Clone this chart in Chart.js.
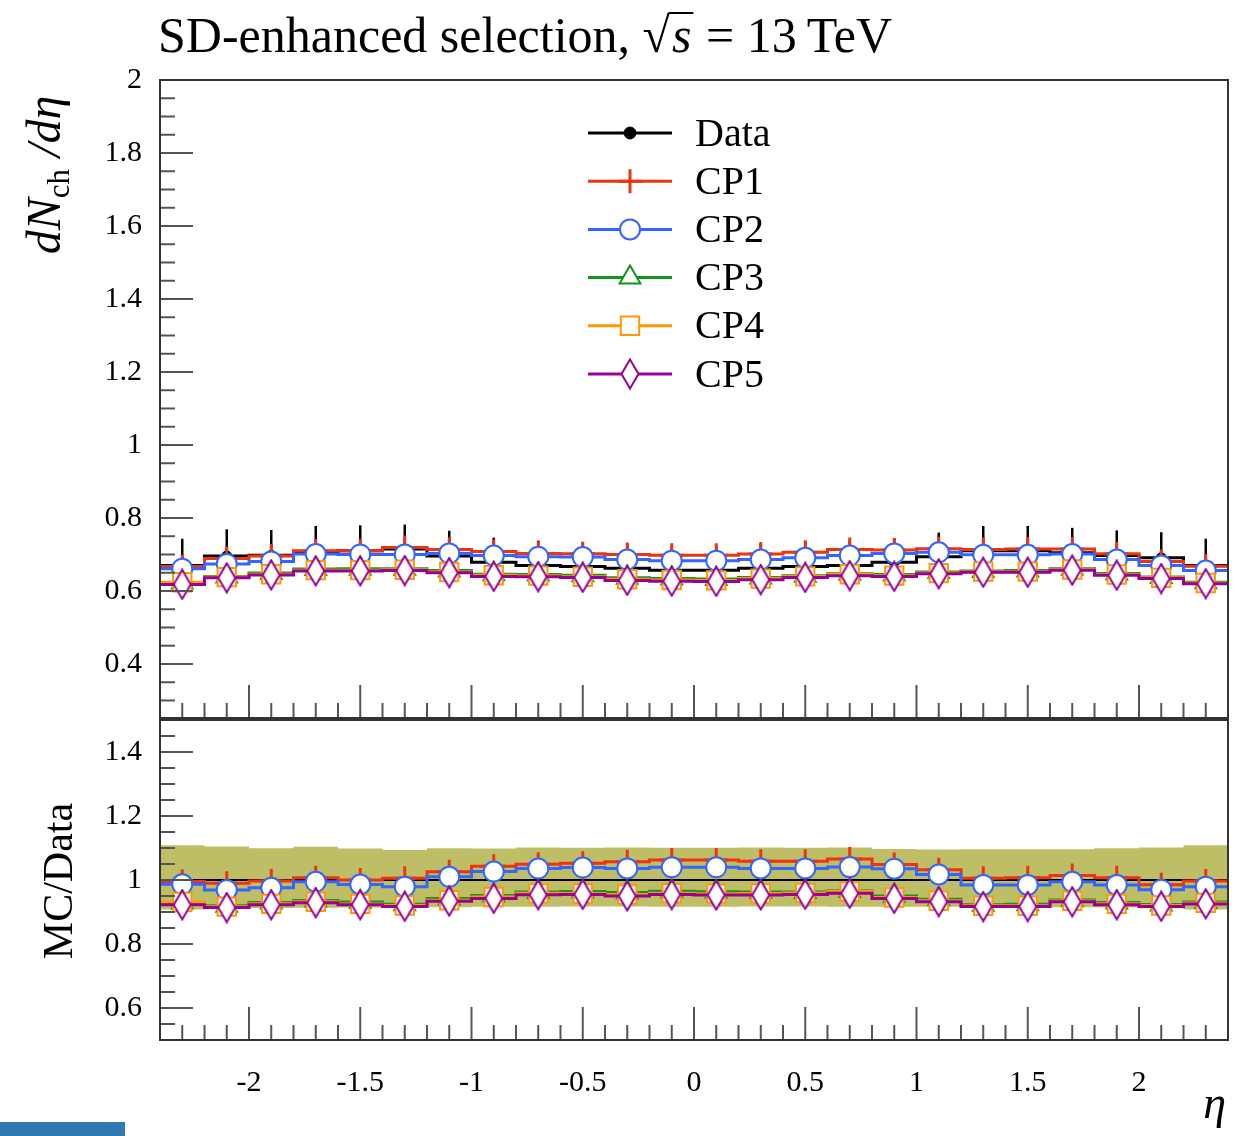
<!DOCTYPE html>
<html>
<head>
<meta charset="utf-8">
<script src="https://cdn.jsdelivr.net/npm/chart.js@4.4.1/dist/chart.umd.min.js"></script>
<style>
  html, body { margin: 0; padding: 0; background: #fff; }
  #wrap { position: relative; width: 1244px; height: 1136px; overflow: hidden; }
  #top { position: absolute; left: 0; top: 0; }
  #bottom { position: absolute; left: 0; top: 700px; }
  #tab { position: absolute; left: 0; top: 1122px; width: 125px; height: 14px; background: #2f78b4; }
</style>
</head>
<body>
<div id="wrap">
  <canvas id="top" width="1244" height="720"></canvas>
  <canvas id="bottom" width="1244" height="436"></canvas>
  <div id="tab"></div>
</div>
<script>
// bin centres in eta, bins are 0.2 wide
const ETA = [-2.3, -2.1, -1.9, -1.7, -1.5, -1.3, -1.1, -0.9, -0.7, -0.5, -0.3, -0.1,
             0.1, 0.3, 0.5, 0.7, 0.9, 1.1, 1.3, 1.5, 1.7, 1.9, 2.1, 2.3];
const BIN_HALF = 0.1;

const DATA = [0.670, 0.696, 0.698, 0.705, 0.710, 0.715, 0.696, 0.679, 0.670, 0.667, 0.662, 0.657,
              0.657, 0.662, 0.667, 0.670, 0.679, 0.694, 0.710, 0.710, 0.705, 0.697, 0.691, 0.670];
const DATA_ERR_UP = [0.073, 0.073, 0.069, 0.073, 0.070, 0.067, 0.069, 0.067, 0.068, 0.067, 0.067, 0.066,
                     0.066, 0.067, 0.067, 0.068, 0.066, 0.066, 0.068, 0.068, 0.068, 0.069, 0.070, 0.073];
const DATA_ERR_DN = [0.062, 0.062, 0.061, 0.061, 0.061, 0.061, 0.059, 0.057, 0.056, 0.055, 0.055, 0.055,
                     0.055, 0.055, 0.055, 0.056, 0.057, 0.058, 0.060, 0.060, 0.060, 0.060, 0.061, 0.062];

const CP1 = [0.667, 0.689, 0.696, 0.710, 0.710, 0.719, 0.714, 0.708, 0.703, 0.702, 0.700, 0.698,
             0.698, 0.701, 0.706, 0.714, 0.712, 0.716, 0.714, 0.715, 0.715, 0.702, 0.681, 0.668];
const CP2 = [0.661, 0.674, 0.681, 0.701, 0.700, 0.700, 0.703, 0.697, 0.694, 0.693, 0.686, 0.683,
             0.683, 0.686, 0.691, 0.697, 0.703, 0.706, 0.699, 0.699, 0.701, 0.686, 0.670, 0.656];
const CP3 = [0.623, 0.640, 0.649, 0.660, 0.661, 0.661, 0.656, 0.646, 0.645, 0.643, 0.636, 0.634,
             0.633, 0.637, 0.642, 0.647, 0.645, 0.652, 0.655, 0.656, 0.661, 0.648, 0.638, 0.624];
const CP4 = [0.624, 0.638, 0.646, 0.657, 0.657, 0.658, 0.652, 0.643, 0.642, 0.639, 0.632, 0.630,
             0.629, 0.634, 0.640, 0.646, 0.642, 0.649, 0.653, 0.653, 0.659, 0.645, 0.636, 0.622];
const CP5 = [0.618, 0.636, 0.644, 0.655, 0.655, 0.656, 0.650, 0.640, 0.639, 0.637, 0.629, 0.627,
             0.626, 0.631, 0.637, 0.642, 0.640, 0.647, 0.651, 0.651, 0.657, 0.643, 0.634, 0.620];

const X_TICKS = [-2, -1.5, -1, -0.5, 0, 0.5, 1, 1.5, 2];
const X_TICK_LABELS = ['-2', '-1.5', '-1', '-0.5', '0', '0.5', '1', '1.5', '2'];
const Y_TICKS = [0.4, 0.6, 0.8, 1, 1.2, 1.4, 1.6, 1.8, 2];
const Y_TICK_LABELS = ['0.4', '0.6', '0.8', '1', '1.2', '1.4', '1.6', '1.8', '2'];
const R_TICKS = [0.6, 0.8, 1, 1.2, 1.4];
const R_TICK_LABELS = ['0.6', '0.8', '1', '1.2', '1.4'];

const FONT = '"Liberation Serif", "Times New Roman", serif';
const BAND = '#bebe66';

// tall open diamond used for CP5
function diamond() {
  const c = document.createElement('canvas');
  c.width = 20; c.height = 32;
  const g = c.getContext('2d');
  g.beginPath();
  g.moveTo(10, 1.5); g.lineTo(18.5, 16); g.lineTo(10, 30.5); g.lineTo(1.5, 16);
  g.closePath();
  g.fillStyle = '#fff'; g.fill();
  g.strokeStyle = '#990099'; g.lineWidth = 2; g.stroke();
  return c;
}

const SERIES = [
  { label: 'CP1', vals: CP1, color: '#ee3311', style: 'cross', r: 12, bw: 3 },
  { label: 'CP2', vals: CP2, color: '#3366ff', style: 'circle', r: 10, bw: 2 },
  { label: 'CP3', vals: CP3, color: '#109618', style: 'triangle', r: 12, bw: 2 },
  { label: 'CP4', vals: CP4, color: '#ff9900', style: 'rect', r: 13, bw: 2 },
  { label: 'CP5', vals: CP5, color: '#990099', style: diamond(), r: 15, bw: 2 }
];

function hist(vals) {
  const pts = vals.map((v, i) => ({ x: ETA[i] - BIN_HALF, y: v }));
  pts.push({ x: ETA[ETA.length - 1] + BIN_HALF, y: vals[vals.length - 1] });
  return pts;
}
function marks(vals) {
  return vals.map((v, i) => ({ x: ETA[i], y: v }));
}

function buildSets(ratio) {
  const f = vals => ratio ? vals.map((v, i) => v / DATA[i]) : vals;
  const sets = [];
  let order = 90;
  if (ratio) {
    sets.push({ data: hist(DATA.map((d, i) => 1 + DATA_ERR_UP[i] / d)), stepped: true, borderWidth: 0,
                pointRadius: 0, fill: '+1', backgroundColor: BAND, order: 100 });
    sets.push({ data: hist(DATA.map((d, i) => 1 - DATA_ERR_DN[i] / d)), stepped: true, borderWidth: 0,
                pointRadius: 0, fill: false, order: 99 });
  }
  sets.push({ data: hist(f(DATA)), borderColor: '#000', borderWidth: ratio ? 2 : 3, stepped: true,
              pointRadius: 0, fill: false, order: order-- });
  if (!ratio) {
    sets.push({ data: marks(DATA), showLine: false, pointStyle: 'circle', pointRadius: 5,
                pointBackgroundColor: '#000', pointBorderColor: '#000', pointBorderWidth: 1,
                errUp: DATA_ERR_UP, errDn: DATA_ERR_DN, order: order-- });
  }
  SERIES.forEach(s => {
    const v = f(s.vals);
    sets.push({ data: hist(v), borderColor: s.color, borderWidth: 3, stepped: true,
                pointRadius: 0, fill: false, order: order-- });
    sets.push({ data: marks(v), showLine: false, pointStyle: s.style, pointRadius: s.r,
                pointBorderColor: s.color, pointBackgroundColor: '#fff', pointBorderWidth: s.bw,
                order: order-- });
  });
  return sets;
}

const errorBars = {
  id: 'errorBars',
  afterDatasetDraw(chart, args) {
    const ds = chart.data.datasets[args.index];
    if (!ds.errUp) return;
    const { ctx, scales: { x, y } } = chart;
    ctx.save();
    ctx.strokeStyle = '#000';
    ctx.lineWidth = 2.5;
    ds.data.forEach((p, i) => {
      const px = x.getPixelForValue(p.x);
      ctx.beginPath();
      ctx.moveTo(px, y.getPixelForValue(p.y - ds.errDn[i]));
      ctx.lineTo(px, y.getPixelForValue(p.y + ds.errUp[i]));
      ctx.stroke();
    });
    ctx.restore();
  }
};

// frame, inward ticks and y labels, like the ROOT/Rivet style
const frame = {
  id: 'frame',
  afterDatasetsDraw(chart, args, opts) {
    const { ctx, chartArea: a, scales: { x, y } } = chart;
    ctx.save();
    ctx.strokeStyle = '#555';
    ctx.lineWidth = 2;
    for (let k = -24; k <= 24; k++) {
      const px = x.getPixelForValue(k / 10);
      if (px < a.left + 2 || px > a.right - 2) continue;
      ctx.beginPath();
      ctx.moveTo(px, a.bottom);
      ctx.lineTo(px, a.bottom - (k % 5 === 0 ? 33 : 15));
      ctx.stroke();
    }
    for (let k = Math.ceil(y.min * 20); k <= Math.floor(y.max * 20); k++) {
      const py = y.getPixelForValue(k / 20);
      if (py < a.top + 2 || py > a.bottom - 2) continue;
      ctx.beginPath();
      ctx.moveTo(a.left, py);
      ctx.lineTo(a.left + (k % 4 === 0 ? 33 : 15), py);
      ctx.stroke();
    }
    ctx.strokeStyle = '#333';
    ctx.strokeRect(a.left, a.top, a.right - a.left, a.bottom - a.top);

    ctx.fillStyle = '#000';
    ctx.font = '30px ' + FONT;
    ctx.textAlign = 'right';
    ctx.textBaseline = 'middle';
    opts.ticks.forEach((v, i) => ctx.fillText(opts.labels[i], a.left - 18, y.getPixelForValue(v)));
    ctx.restore();
  }
};

function rotatedText(ctx, baseX, centerY, parts) {
  ctx.save();
  let total = 0;
  parts.forEach(p => { ctx.font = p.font; p.w = ctx.measureText(p.t).width; total += p.w; });
  ctx.translate(baseX, centerY);
  ctx.rotate(-Math.PI / 2);
  ctx.fillStyle = '#000';
  ctx.textBaseline = 'alphabetic';
  ctx.textAlign = 'left';
  let x = -total / 2;
  parts.forEach(p => { ctx.font = p.font; ctx.fillText(p.t, x, p.dy || 0); x += p.w; });
  ctx.restore();
}

function drawMarker(ctx, s, x, y) {
  ctx.save();
  if (typeof s.style !== 'string') {
    ctx.drawImage(s.style, x - s.style.width / 2, y - s.style.height / 2);
    ctx.restore();
    return;
  }
  ctx.lineWidth = s.bw;
  ctx.strokeStyle = s.color;
  ctx.fillStyle = s.fill || '#fff';
  ctx.beginPath();
  if (s.style === 'circle') {
    ctx.arc(x, y, s.r, 0, 2 * Math.PI);
  } else if (s.style === 'cross') {
    ctx.moveTo(x, y - s.r); ctx.lineTo(x, y + s.r);
    ctx.moveTo(x - s.r, y); ctx.lineTo(x + s.r, y);
  } else if (s.style === 'triangle') {
    ctx.moveTo(x, y - s.r);
    ctx.lineTo(x + 0.866 * s.r, y + 0.5 * s.r);
    ctx.lineTo(x - 0.866 * s.r, y + 0.5 * s.r);
    ctx.closePath();
  } else if (s.style === 'rect') {
    const h = s.r * Math.SQRT1_2;
    ctx.rect(x - h, y - h, 2 * h, 2 * h);
  }
  if (s.style !== 'cross') ctx.fill();
  ctx.stroke();
  ctx.restore();
}

const topDecor = {
  id: 'topDecor',
  afterDraw(chart) {
    const ctx = chart.ctx;
    ctx.save();
    ctx.fillStyle = '#000';
    ctx.strokeStyle = '#000';
    // title
    const base = 52;
    let x = 158;
    ctx.textBaseline = 'alphabetic';
    ctx.font = '50px ' + FONT;
    const t1 = 'SD-enhanced selection, ';
    ctx.fillText(t1, x, base);
    x += ctx.measureText(t1).width;
    const rm = ctx.measureText('\u221A');
    ctx.fillText('\u221A', x, base);
    x += rm.width;
    const barY = base - (rm.actualBoundingBoxAscent || 38) + 1;
    const barStart = x - 1;
    ctx.font = 'italic 50px ' + FONT;
    ctx.fillText('s', x + 2, base);
    x += ctx.measureText('s').width + 4;
    ctx.lineWidth = 2;
    ctx.beginPath(); ctx.moveTo(barStart, barY); ctx.lineTo(x, barY); ctx.stroke();
    ctx.font = '50px ' + FONT;
    ctx.fillText(' = 13\u2009TeV', x, base);

    // legend
    const rows = [{ label: 'Data', color: '#000', style: 'circle', r: 6, bw: 1, fill: '#000' }].concat(SERIES);
    rows.forEach((s, i) => {
      const y = 133 + 48.2 * i;
      ctx.strokeStyle = s.color;
      ctx.lineWidth = 3;
      ctx.beginPath(); ctx.moveTo(588, y); ctx.lineTo(672, y); ctx.stroke();
      drawMarker(ctx, s, 630, y);
      ctx.fillStyle = '#000';
      ctx.font = '40px ' + FONT;
      ctx.textBaseline = 'middle';
      ctx.fillText(s.label, 695, y + 2);
    });
    ctx.restore();

    rotatedText(ctx, 60, 175, [
      { t: 'dN', font: 'italic 48px ' + FONT },
      { t: 'ch', font: '31px ' + FONT, dy: 9 },
      { t: ' /d\u03B7', font: 'italic 48px ' + FONT }
    ]);
  }
};

const bottomDecor = {
  id: 'bottomDecor',
  afterDraw(chart) {
    const ctx = chart.ctx;
    rotatedText(ctx, 72, 181, [{ t: 'MC/Data', font: '42px ' + FONT }]);
    ctx.save();
    ctx.fillStyle = '#000';
    ctx.font = 'italic 46px ' + FONT;
    ctx.textAlign = 'right';
    ctx.textBaseline = 'alphabetic';
    ctx.fillText('\u03B7', 1226, 418);
    ctx.restore();
  }
};

Chart.defaults.font.family = FONT;
Chart.defaults.color = '#000';

function yScale(min, max) {
  return {
    type: 'linear', min: min, max: max,
    grid: { display: false }, border: { display: false },
    ticks: { display: false },
    afterFit: s => { s.width = 160; }
  };
}

const common = {
  responsive: false,
  animation: false,
  devicePixelRatio: 1,
  events: []
};

new Chart(document.getElementById('top'), {
  type: 'line',
  data: { datasets: buildSets(false) },
  options: Object.assign({}, common, {
    layout: { autoPadding: false, padding: { top: 80, right: 16, bottom: 2, left: 0 } },
    plugins: {
      legend: { display: false }, tooltip: { enabled: false },
      frame: { ticks: Y_TICKS, labels: Y_TICK_LABELS }
    },
    scales: {
      x: { type: 'linear', min: -2.4, max: 2.4, display: false },
      y: yScale(0.252, 2)
    }
  }),
  plugins: [errorBars, frame, topDecor]
});

new Chart(document.getElementById('bottom'), {
  type: 'line',
  data: { datasets: buildSets(true) },
  options: Object.assign({}, common, {
    layout: { autoPadding: false, padding: { top: 20, right: 16, bottom: 0, left: 0 } },
    plugins: {
      legend: { display: false }, tooltip: { enabled: false },
      frame: { ticks: R_TICKS, labels: R_TICK_LABELS }
    },
    scales: {
      x: {
        type: 'linear', min: -2.4, max: 2.4,
        grid: { display: false }, border: { display: false },
        afterBuildTicks: s => { s.ticks = X_TICKS.map(v => ({ value: v })); },
        afterFit: s => { s.height = 96; },
        ticks: { font: { size: 30 }, padding: 17, color: '#000', autoSkip: false, maxRotation: 0,
                 callback: (v, i) => X_TICK_LABELS[i] }
      },
      y: yScale(0.5, 1.5)
    }
  }),
  plugins: [frame, bottomDecor]
});
</script>
</body>
</html>
